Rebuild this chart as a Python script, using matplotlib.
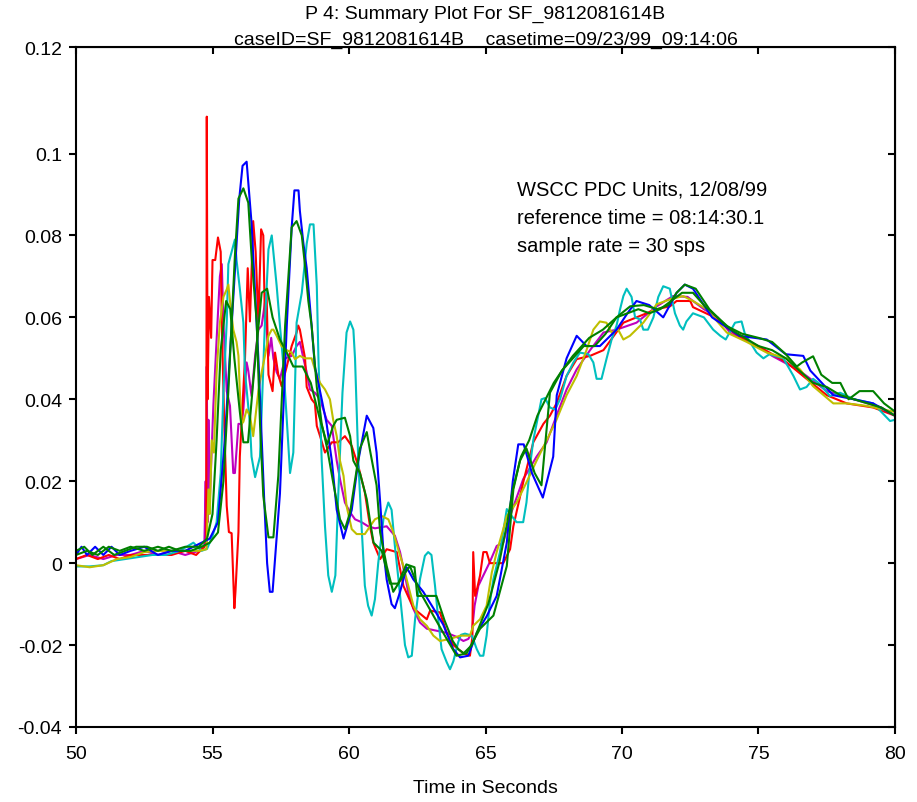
import matplotlib
matplotlib.use("Agg")
import matplotlib.pyplot as plt

plt.rcParams['font.family'] = ['Liberation Sans', 'DejaVu Sans']

# values (time in s, value)
blue_t = [50.0, 50.2, 50.4, 50.7, 51.0, 51.3, 51.6, 52.0, 52.5, 53.0, 53.5, 54.0, 54.3, 54.6, 54.9, 55.2, 55.45,
          55.7, 55.98, 56.1, 56.25, 56.43, 56.68, 56.89, 57.0, 57.1, 57.2, 57.47, 57.72, 57.9, 58.0, 58.15, 58.2,
          58.33, 58.45, 58.63, 58.75, 59.0, 59.18, 59.37, 59.55, 59.8, 60.1, 60.34, 60.65, 60.89, 61.01, 61.14,
          61.26, 61.38, 61.56, 61.68, 61.87, 62.11, 62.36, 62.72, 63.09, 63.45, 63.82, 64.07, 64.37, 64.68, 65.04,
          65.41, 65.78, 66.0, 66.2, 66.4, 66.7, 67.1, 67.48, 67.61, 67.97, 68.34, 68.7, 69.19, 69.8, 70.2, 70.53,
          71.0, 71.51, 72.0, 72.3, 72.6, 73.3, 74.3, 75.3, 76.0, 76.64, 76.9, 77.74, 78.5, 79.2, 80.0]
blue_v = [0.002, 0.004, 0.002, 0.004, 0.002, 0.004, 0.002, 0.003, 0.004, 0.002, 0.003, 0.003, 0.004, 0.005,
          0.006, 0.010, 0.030, 0.058, 0.089, 0.097, 0.098, 0.083, 0.050, 0.016, 0.0, -0.007, -0.007, 0.017, 0.058,
          0.082, 0.091, 0.091, 0.086, 0.078, 0.072, 0.058, 0.048, 0.040, 0.034, 0.025, 0.013, 0.006, 0.013, 0.025,
          0.036, 0.033, 0.027, 0.015, 0.003, -0.004, -0.010, -0.011, -0.007, -0.001, -0.004, -0.007, -0.011,
          -0.015, -0.021, -0.023, -0.0226, -0.017, -0.013, -0.008, 0.005, 0.020, 0.029, 0.029, 0.022, 0.016,
          0.026, 0.041, 0.050, 0.0555, 0.053, 0.053, 0.057, 0.061, 0.064, 0.063, 0.060, 0.066, 0.068, 0.067,
          0.060, 0.0555, 0.0546, 0.051, 0.0506, 0.047, 0.041, 0.040, 0.039, 0.036]

greenA_t = [50.0, 50.3, 50.6, 51.0, 51.4, 51.8, 52.2, 52.6, 53.0, 53.4, 53.8, 54.2, 54.6, 54.9, 55.2, 55.4, 55.58,
            55.82, 55.95, 56.13, 56.31, 56.43, 56.62, 56.74, 56.86, 57.05, 57.23, 57.41, 57.66, 57.9, 58.08, 58.27,
            58.39, 58.51, 58.63, 58.82, 59.0, 59.2, 59.42, 59.67, 59.85, 60.04, 60.4, 60.65, 60.77, 61.01, 61.14,
            61.38, 61.62, 61.99, 62.23, 62.6, 63.09, 63.58, 63.94, 64.31, 64.8, 65.29, 65.78, 66.02, 66.26, 66.5,
            66.8, 67.05, 67.36, 67.8, 68.2, 68.8, 69.3, 69.8, 70.3, 70.8, 71.3, 71.7, 72.0, 72.3, 72.7, 73.2, 73.8,
            74.4, 75.0, 75.5, 76.0, 76.4, 76.6, 77.0, 77.3, 77.7, 78.0, 78.3, 78.7, 79.2, 79.6, 80.0]
greenA_v = [0.003, 0.004, 0.002, 0.004, 0.002, 0.003, 0.004, 0.004, 0.003, 0.004, 0.003, 0.003, 0.004, 0.005,
            0.0075, 0.020, 0.042, 0.075, 0.089, 0.0915, 0.088, 0.075, 0.0587, 0.034, 0.0164, 0.0063, 0.0063,
            0.0213, 0.058, 0.082, 0.0835, 0.080, 0.0725, 0.064, 0.058, 0.043, 0.034, 0.028, 0.0197, 0.0107, 0.0083,
            0.0124, 0.028, 0.032, 0.0275, 0.019, 0.0075, -0.0007, -0.007, -0.003, -0.0007, -0.007, -0.0128,
            -0.0185, -0.0226, -0.022, -0.016, -0.0128, -0.0007, 0.018, 0.025, 0.028, 0.022, 0.019, 0.0416, 0.047,
            0.0506, 0.055, 0.057, 0.060, 0.0627, 0.063, 0.062, 0.063, 0.066, 0.068, 0.067, 0.062, 0.058, 0.056,
            0.055, 0.054, 0.051, 0.048, 0.049, 0.0505, 0.046, 0.044, 0.044, 0.040, 0.042, 0.042, 0.039, 0.037]

greenB_t = [50.0, 50.4, 50.8, 51.2, 51.6, 52.0, 52.5, 53.0, 53.5, 54.0, 54.5, 54.8, 55.0, 55.15, 55.3, 55.5, 55.65,
            55.8, 56.0, 56.13, 56.3, 56.5, 56.8, 57.0, 57.2, 57.47, 57.72, 57.96, 58.3, 58.6, 58.9, 59.2, 59.42,
            59.55, 59.85, 60.04, 60.16, 60.4, 60.65, 60.8, 60.9, 61.2, 61.5, 61.8, 62.1, 62.4, 62.5, 63.2, 63.5,
            63.8, 64.0, 64.2, 64.5, 64.8, 65.1, 65.5, 65.8, 66.0, 66.3, 66.6, 66.9, 67.2, 67.5, 67.8, 68.2, 68.6,
            69.0, 69.4, 69.8, 70.2, 70.6, 71.0, 71.4, 71.8, 72.2, 72.6, 73.0, 73.5, 74.0, 74.5, 75.0, 75.5, 76.0,
            76.5, 77.0, 77.5, 78.0, 78.5, 79.0, 79.5, 80.0]
greenB_v = [0.002, 0.003, 0.002, 0.004, 0.003, 0.004, 0.003, 0.004, 0.003, 0.004, 0.004, 0.006, 0.012, 0.030,
            0.052, 0.064, 0.062, 0.050, 0.037, 0.0295, 0.0295, 0.045, 0.066, 0.067, 0.060, 0.0546, 0.0514, 0.048,
            0.048, 0.044, 0.036, 0.029, 0.0335, 0.035, 0.0355, 0.031, 0.025, 0.022, 0.0156, 0.009, 0.005, 0.003,
            -0.005, -0.005, -0.0003, -0.001, -0.008, -0.008, -0.014, -0.019, -0.021, -0.022, -0.020, -0.015,
            -0.010, 0.0, 0.010, 0.018, 0.026, 0.030, 0.036, 0.040, 0.044, 0.047, 0.050, 0.053, 0.053, 0.056, 0.060,
            0.061, 0.062, 0.061, 0.062, 0.064, 0.066, 0.066, 0.063, 0.060, 0.057, 0.055, 0.053, 0.052, 0.050,
            0.047, 0.044, 0.043, 0.041, 0.040, 0.039, 0.038, 0.036]

red_t = [50.0, 50.4, 50.8, 51.2, 51.6, 52.0, 52.5, 53.0, 53.5, 54.0, 54.4, 54.7, 54.77, 54.79, 54.82, 54.87, 54.95,
         55.0, 55.1, 55.2, 55.3, 55.34, 55.43, 55.52, 55.6, 55.7, 55.8, 55.84, 55.95, 56.0, 56.19, 56.29, 56.37,
         56.49, 56.58, 56.68, 56.78, 56.86, 56.92, 56.98, 57.05, 57.2, 57.29, 57.41, 57.53, 57.72, 57.9, 58.08,
         58.14, 58.2, 58.39, 58.45, 58.63, 58.75, 58.82, 58.94, 59.12, 59.37, 59.6, 59.85, 60.1, 60.34, 60.58,
         60.77, 60.89, 61.14, 61.38, 61.75, 61.99, 62.36, 62.85, 62.97, 63.33, 63.58, 63.82, 64.19, 64.43, 64.52,
         64.55, 64.62, 64.7, 64.8, 64.92, 65.04, 65.16, 65.4, 65.65, 65.9, 66.02, 66.38, 66.75, 67.12, 67.36,
         67.6, 67.97, 68.34, 68.83, 69.32, 70.05, 70.53, 71.27, 71.76, 72.0, 72.5, 72.6, 73.3, 74.08, 74.5, 75.3,
         76.03, 76.76, 77.5, 78.23, 79.2, 80.0]
red_v = [0.001, 0.002, 0.001, 0.002, 0.001, 0.002, 0.002, 0.002, 0.002, 0.003, 0.002, 0.004, 0.005, 0.109, 0.040,
         0.065, 0.055, 0.074, 0.074, 0.0795, 0.076, 0.0587, 0.034, 0.014, 0.0076, 0.0073, -0.011, -0.007, 0.0076,
         0.026, 0.050, 0.072, 0.059, 0.0835, 0.076, 0.059, 0.0815, 0.080, 0.059, 0.066, 0.046, 0.042, 0.0514,
         0.046, 0.0432, 0.048, 0.053, 0.0563, 0.058, 0.057, 0.050, 0.043, 0.040, 0.039, 0.0335, 0.031, 0.027,
         0.0295, 0.0295, 0.031, 0.0286, 0.0237, 0.0173, 0.009, 0.005, 0.001, 0.0034, 0.0027, -0.0055, -0.011,
         -0.0137, -0.0116, -0.012, -0.017, -0.020, -0.022, -0.0226, -0.018, 0.0027, -0.008, -0.006, -0.003,
         0.0027, 0.0027, 0.0, 0.0, 0.0, 0.0034, 0.009, 0.0197, 0.0295, 0.034, 0.036, 0.039, 0.0457, 0.0498,
         0.0506, 0.052, 0.0587, 0.060, 0.062, 0.0627, 0.064, 0.064, 0.0625, 0.0603, 0.0563, 0.0546, 0.0518,
         0.049, 0.045, 0.041, 0.039, 0.038, 0.036]

cyan_t = [50.0, 50.5, 51.0, 51.3, 51.8, 52.3, 52.8, 53.3, 53.8, 54.3, 54.6, 54.8, 55.0, 55.15, 55.3, 55.4, 55.52,
          55.58, 55.7, 55.82, 55.88, 56.0, 56.13, 56.19, 56.37, 56.43, 56.56, 56.74, 56.83, 56.92, 57.05, 57.17,
          57.35, 57.47, 57.6, 57.72, 57.84, 57.96, 58.08, 58.27, 58.45, 58.57, 58.7, 58.82, 58.88, 59.0, 59.12,
          59.24, 59.37, 59.5, 59.61, 59.76, 59.91, 60.04, 60.16, 60.22, 60.34, 60.46, 60.58, 60.7, 60.83, 60.95,
          61.07, 61.26, 61.44, 61.56, 61.68, 61.81, 61.93, 62.05, 62.17, 62.3, 62.42, 62.6, 62.78, 62.9, 63.02,
          63.15, 63.27, 63.39, 63.58, 63.7, 63.82, 64.0, 64.1, 64.25, 64.5, 64.68, 64.8, 64.92, 65.04, 65.16,
          65.29, 65.53, 65.78, 65.9, 66.14, 66.38, 66.5, 66.63, 66.75, 66.93, 67.05, 67.18, 67.36, 67.55, 67.73,
          67.97, 68.22, 68.46, 68.77, 68.95, 69.07, 69.25, 69.43, 69.62, 69.8, 69.93, 70.05, 70.17, 70.35, 70.48,
          70.66, 70.78, 70.95, 71.15, 71.33, 71.51, 71.75, 71.94, 72.12, 72.24, 72.36, 72.6, 73.0, 73.34, 73.6,
          73.8, 74.14, 74.38, 74.5, 74.93, 75.18, 75.4, 75.91, 76.28, 76.52, 76.76, 77.0, 77.2, 77.62, 77.99,
          78.5, 79.2, 79.82, 80.0]
cyan_v = [-0.0008, -0.0008, -0.0005, 0.0005, 0.001, 0.0015, 0.002, 0.002, 0.003, 0.005, 0.003, 0.0035, 0.0066,
          0.010, 0.022, 0.042, 0.0587, 0.073, 0.076, 0.079, 0.074, 0.067, 0.0587, 0.0466, 0.034, 0.026, 0.021,
          0.026, 0.042, 0.0587, 0.0766, 0.080, 0.0677, 0.058, 0.048, 0.035, 0.022, 0.027, 0.0587, 0.066, 0.078,
          0.0827, 0.0827, 0.0677, 0.050, 0.025, 0.009, -0.003, -0.007, -0.003, 0.0173, 0.0416, 0.0563, 0.059,
          0.057, 0.050, 0.025, 0.009, -0.0055, -0.0104, -0.0128, -0.0088, 0.0, 0.0107, 0.0148, 0.013, 0.0042,
          -0.0039, -0.012, -0.020, -0.023, -0.0226, -0.0137, -0.0039, 0.0018, 0.0027, 0.002, -0.0055, -0.0137,
          -0.021, -0.0242, -0.0259, -0.024, -0.0193, -0.0175, -0.0172, -0.0177, -0.021, -0.0226, -0.0226,
          -0.0177, -0.0096, -0.0039, 0.0027, 0.0132, 0.012, 0.010, 0.010, 0.0148, 0.0237, 0.030, 0.036, 0.040,
          0.0403, 0.038, 0.0375, 0.040, 0.0457, 0.049, 0.0514, 0.051, 0.049, 0.045, 0.045, 0.0498, 0.0546, 0.058,
          0.062, 0.0652, 0.067, 0.065, 0.060, 0.0595, 0.057, 0.057, 0.060, 0.065, 0.0676, 0.067, 0.061, 0.058,
          0.057, 0.059, 0.061, 0.060, 0.057, 0.0555, 0.0546, 0.0587, 0.059, 0.056, 0.0514, 0.050, 0.051, 0.050,
          0.0457, 0.0424, 0.043, 0.045, 0.044, 0.0408, 0.0416, 0.040, 0.039, 0.0347, 0.035]

magenta_t = [50.0, 50.5, 51.0, 51.5, 52.0, 52.5, 53.0, 53.5, 54.0, 54.5, 54.7, 54.75, 54.77, 54.79, 54.82, 54.85,
             54.9, 55.03, 55.15, 55.27, 55.34, 55.4, 55.46, 55.52, 55.64, 55.76, 55.82, 55.95, 56.07, 56.13, 56.25,
             56.31, 56.43, 56.56, 56.68, 56.8, 56.92, 57.05, 57.15, 57.23, 57.35, 57.47, 57.66, 57.9, 58.08, 58.2,
             58.33, 58.45, 58.57, 58.75, 58.94, 59.18, 59.37, 59.55, 59.67, 59.85, 60.04, 60.22, 60.46, 60.7,
             60.95, 61.38, 61.68, 61.87, 62.05, 62.17, 62.36, 62.6, 62.85, 63.21, 63.58, 63.94, 64.19, 64.37, 64.5,
             64.55, 64.6, 64.74, 64.92, 65.16, 65.41, 65.65, 65.9, 66.38, 66.87, 67.24, 67.6, 67.97, 68.34, 68.83,
             69.32, 69.8, 70.53, 71.27, 71.87, 72.4, 73.0, 73.5, 74.0, 75.0, 75.5, 76.5, 77.5, 78.5, 79.5, 80.0]
magenta_v = [0.001, 0.002, 0.001, 0.002, 0.002, 0.003, 0.002, 0.003, 0.002, 0.003, 0.004, 0.020, 0.005, 0.048,
             0.010, 0.035, 0.015, 0.0384, 0.0546, 0.070, 0.073, 0.0587, 0.0506, 0.042, 0.0384, 0.022, 0.022, 0.034,
             0.034, 0.0375, 0.049, 0.047, 0.0408, 0.0506, 0.057, 0.058, 0.0636, 0.0506, 0.055, 0.050, 0.0466,
             0.045, 0.050, 0.0506, 0.053, 0.054, 0.050, 0.0466, 0.0424, 0.0416, 0.040, 0.035, 0.0335, 0.025,
             0.0205, 0.0148, 0.0124, 0.0107, 0.010, 0.009, 0.0085, 0.009, 0.0067, 0.0027, -0.003, -0.0071,
             -0.0112, -0.0145, -0.016, -0.0165, -0.017, -0.018, -0.019, -0.0185, -0.017, -0.0137, -0.0104,
             -0.0055, -0.003, 0.0003, 0.0042, 0.005, 0.0115, 0.0205, 0.026, 0.0295, 0.036, 0.0424, 0.0473, 0.052,
             0.0563, 0.057, 0.0587, 0.0627, 0.0652, 0.065, 0.062, 0.060, 0.056, 0.053, 0.0506, 0.047, 0.042, 0.040,
             0.038, 0.036]

yellow_t = [50.0, 50.5, 51.0, 51.5, 52.0, 52.5, 53.0, 53.5, 54.0, 54.5, 54.78, 54.85, 54.9, 54.97, 55.05, 55.15,
            55.27, 55.4, 55.52, 55.58, 55.64, 55.76, 55.88, 55.95, 56.0, 56.07, 56.13, 56.25, 56.37, 56.49, 56.56,
            56.68, 56.8, 56.92, 57.05, 57.17, 57.23, 57.35, 57.53, 57.72, 57.9, 58.02, 58.2, 58.39, 58.63, 58.75,
            58.94, 59.12, 59.3, 59.42, 59.55, 59.67, 59.8, 59.91, 60.1, 60.28, 60.58, 60.77, 60.95, 61.2, 61.44,
            61.62, 61.8, 61.99, 62.17, 62.36, 62.6, 62.85, 63.09, 63.33, 63.7, 64.07, 64.43, 64.55, 64.8, 65.04,
            65.23, 65.41, 65.65, 65.78, 66.14, 66.5, 66.87, 67.24, 67.6, 67.97, 68.34, 68.7, 68.95, 69.19, 69.43,
            69.62, 69.86, 70.05, 70.29, 70.78, 71.27, 71.76, 72.24, 72.6, 73.1, 73.84, 74.57, 75.3, 76.03, 76.52,
            77.0, 77.74, 78.23, 78.96, 79.93]
yellow_v = [-0.0005, -0.001, -0.0005, 0.001, 0.0015, 0.0027, 0.003, 0.003, 0.003, 0.003, 0.0034, 0.018, 0.012,
            0.030, 0.027, 0.0466, 0.0587, 0.065, 0.0668, 0.068, 0.064, 0.057, 0.054, 0.0506, 0.042, 0.034, 0.0345,
            0.0375, 0.036, 0.031, 0.035, 0.042, 0.0466, 0.0506, 0.0555, 0.057, 0.057, 0.0555, 0.053, 0.052, 0.0514,
            0.0498, 0.0506, 0.050, 0.050, 0.0473, 0.044, 0.0424, 0.040, 0.035, 0.031, 0.025, 0.0213, 0.014, 0.0083,
            0.0071, 0.0071, 0.009, 0.0107, 0.0115, 0.0107, 0.0076, 0.0034, -0.0007, -0.0055, -0.0104, -0.0137,
            -0.0153, -0.0177, -0.019, -0.0185, -0.0177, -0.0177, -0.0153, -0.0137, -0.0104, -0.0023, 0.0027,
            0.0083, 0.0115, 0.0148, 0.0197, 0.025, 0.030, 0.035, 0.041, 0.0457, 0.052, 0.057, 0.059, 0.0587,
            0.0563, 0.057, 0.0546, 0.0555, 0.0587, 0.0632, 0.0644, 0.0652, 0.064, 0.062, 0.0563, 0.054, 0.0514,
            0.050, 0.0473, 0.0432, 0.039, 0.039, 0.0384, 0.037]

series = [
    (magenta_t, magenta_v, (0.75, 0, 0.75)),
    (red_t, red_v, (1, 0, 0)),
    (cyan_t, cyan_v, (0, 0.75, 0.75)),
    (yellow_t, yellow_v, (0.75, 0.75, 0)),
    (blue_t, blue_v, (0, 0, 1)),
    (greenB_t, greenB_v, (0, 0.5, 0)),
    (greenA_t, greenA_v, (0, 0.5, 0)),
]

x_ticks = [50, 55, 60, 65, 70, 75, 80]
y_ticks = [-0.04, -0.02, 0, 0.02, 0.04, 0.06, 0.08, 0.1, 0.126]
y_labels = ['-0.04', '-0.02', '0', '0.02', '0.04', '0.06', '0.08', '0.1', '0.12']

title_lines = ['P 4: Summary Plot For SF_9812081614B',
               'caseID=SF_9812081614B    casetime=09/23/99_09:14:06']
note_lines = ['WSCC PDC Units, 12/08/99',
              'reference time = 08:14:30.1',
              'sample rate = 30 sps']

fig = plt.figure(figsize=(9.17, 8.03), dpi=100)
ax = fig.add_axes([0.0829, 0.0934, 0.8931, 0.8468])

for t, v, c in series:
    ax.plot(t, v, color=c, linewidth=1.5)

ax.set_xlim(50, 80)
ax.set_ylim(-0.04, 0.126)
ax.set_xticks(x_ticks)
ax.set_xticklabels([str(x) for x in x_ticks])
ax.set_yticks(y_ticks)
ax.set_yticklabels(y_labels)
ax.tick_params(direction='out', length=5, width=1.5, labelsize=14)
ax.tick_params(axis='x', pad=8)
ax.tick_params(axis='y', pad=5)
for s in ax.spines.values():
    s.set_linewidth(1.5)

top = ax.secondary_xaxis('top')
top.set_xticks(x_ticks)
top.tick_params(direction='in', length=5, width=1.5, labeltop=False)
right = ax.secondary_yaxis('right')
right.set_yticks(y_ticks)
right.tick_params(direction='in', length=5, width=1.5, labelright=False)

ax.set_xlabel('Time in Seconds', fontsize=14, labelpad=12)

cx = (76 + 895) / 2 / 917
fig.text(cx, 1 - 14 / 803, title_lines[0], fontsize=14, ha='center', va='center')
fig.text(cx, 1 - 40 / 803, title_lines[1], fontsize=14, ha='center', va='center')

for i, line in enumerate(note_lines):
    fig.text(517 / 917, 1 - (190 + 28 * i) / 803, line, fontsize=14.5, ha='left', va='center')

fig.savefig('out.png', dpi=100)
